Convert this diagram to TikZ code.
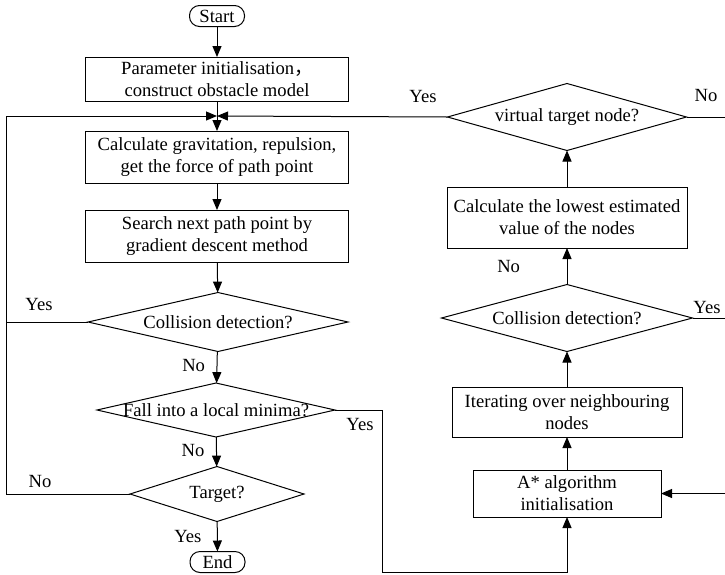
\documentclass[tikz,border=0pt]{standalone}
\usepackage{fontspec}
\setmainfont{Liberation Serif}
\newfontfamily\cjkfont{Noto Sans CJK SC}
\usetikzlibrary{shapes.geometric,arrows.meta,calc}
\begin{document}
\begin{tikzpicture}[x=1pt,y=-1pt,
  font=\fontsize{18.6}{22}\selectfont,
  every node/.style={inner sep=0pt,outer sep=0pt},
  proc/.style={draw,line width=1pt,align=center},
  term/.style={draw,line width=1pt,rounded corners=10pt,minimum width=55pt,minimum height=21pt},
  dec/.style={draw,line width=1pt,diamond},
  conn/.style={line width=1pt},
  arr/.style={line width=1pt,-{Triangle[length=11pt,width=9pt]}},
  lab/.style={}
]
\useasboundingbox (0,0) rectangle (725,574);
% left column
\node[term] (start) at (217,16) {Start};
\node[proc,minimum width=263pt,minimum height=44pt] (b1) at (217,79) {Parameter initialisation{\cjkfont ，}\\construct obstacle model};
\node[proc,minimum width=263pt,minimum height=52pt] (b2) at (217,157) {Calculate gravitation, repulsion,\\get the force of path point};
\node[proc,minimum width=263pt,minimum height=52pt] (b3) at (217,236) {Search next path point by\\gradient descent method};
\node[dec,minimum width=260pt,minimum height=59pt,label={center:Collision detection?}] (c1) at (218,322) {};
\node[dec,minimum width=238pt,minimum height=54pt,label={center:Fall into a local minima?}] (lm) at (216,410) {};
\node[dec,minimum width=174pt,minimum height=55pt,label={center:Target?}] (tg) at (217,494) {};
\node[term] (end) at (217.5,562) {End};
% right column
\node[dec,minimum width=239pt,minimum height=67pt,label={center:virtual target node?}] (vt) at (567,117) {};
\node[proc,minimum width=240pt,minimum height=61pt] (calc) at (567,217.5) {Calculate the lowest estimated\\value of the nodes};
\node[dec,minimum width=251pt,minimum height=67pt,label={center:Collision detection?}] (c2) at (567,318) {};
\node[proc,minimum width=230pt,minimum height=50pt] (it) at (567,412) {Iterating over neighbouring\\nodes};
\node[proc,minimum width=188pt,minimum height=47pt] (as) at (567,493.5) {A* algorithm\\initialisation};
% helper coordinates
\coordinate (j) at ($(b1.south)!0.5!(b2.north)$);
\coordinate (lx) at (6,0);
\coordinate (rx) at (727,0);
\coordinate (bx) at (382,572);
% connectors
\draw[arr] (start) -- (b1);
\draw[arr] (b1) -- (b2);
\draw[arr] (b2) -- (b3);
\draw[arr] (b3) -- (c1);
\draw[arr] (c1) -- node[left=12pt,pos=0.45]{No} (lm);
\draw[arr] (lm) -- node[left=12pt,pos=0.45]{No} (tg);
\draw[arr] (tg) -- node[left=16pt,pos=0.5]{Yes} (end);
\draw[conn] (c1.west) -- (c1.west -| lx);
\draw[arr] (tg.west) -- (tg.west -| lx) |- (j);
\draw[arr] (vt.west) -- (j);
\draw[arr] (lm.east) -| (bx) -| (as.south);
\draw[arr] (as) -- (it);
\draw[arr] (it) -- (c2);
\draw[arr] (c2) -- node[left=47pt,pos=0.5]{No} (calc);
\draw[arr] (calc) -- (vt);
\draw[arr] (vt.east) -| (rx |- as.east) -- (as.east);
\draw[conn] (c2.east) -- (c2.east -| rx);
% branch labels
\node[lab] at (39,304) {Yes};
\node[lab] at (40,481) {No};
\node[lab] at (360,424) {Yes};
\node[lab] at (423,96) {Yes};
\node[lab] at (706,95) {No};
\node[lab] at (707,307) {Yes};
\end{tikzpicture}
\end{document}
